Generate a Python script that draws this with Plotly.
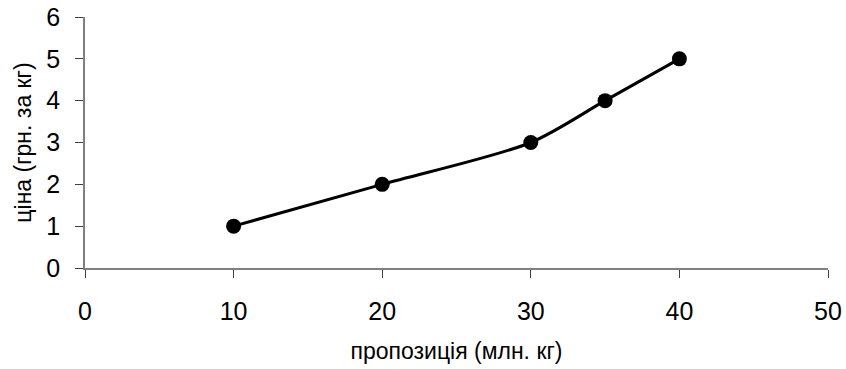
import plotly.graph_objects as go

# Supply curve: quantity (mln kg) vs price (UAH per kg)
supply_qty = [10, 20, 30, 35, 40]
price = [1, 2, 3, 4, 5]

x_ticks = [0, 10, 20, 30, 40, 50]
y_ticks = [0, 1, 2, 3, 4, 5, 6]

FONT = "Liberation Sans, Arial, sans-serif"

fig = go.Figure()
fig.add_trace(go.Scatter(
    x=supply_qty, y=price,
    mode="lines+markers",
    line=dict(color="black", width=3, shape="spline", smoothing=0.8),
    marker=dict(color="black", size=15, symbol="circle"),
    showlegend=False,
))

axis_common = dict(
    showgrid=False, zeroline=False, automargin=False,
    showline=True, linecolor="#808080", linewidth=1.5,
    ticks="outside", ticklen=8, tickcolor="#404040", tickwidth=1,
    tickfont=dict(family=FONT, size=25, color="black"),
)

fig.update_xaxes(
    range=[0, 50], tickvals=x_ticks, ticktext=[str(v) for v in x_ticks],
    title=dict(text="пропозиція (млн. кг)", font=dict(family=FONT, size=23, color="black"), standoff=19),
    ticklabelstandoff=12,
    **axis_common,
)
fig.update_yaxes(
    range=[0, 6], tickvals=y_ticks, ticktext=[str(v) for v in y_ticks],
    title=dict(text="ціна (грн. за кг)", font=dict(family=FONT, size=23, color="black"), standoff=8),
    ticklabelstandoff=10,
    **axis_common,
)

fig.update_layout(
    width=846, height=369,
    margin=dict(l=85, r=18, t=17, b=101, autoexpand=False),
    paper_bgcolor="white", plot_bgcolor="white",
    font=dict(family=FONT, color="black"),
)

fig.write_html("out.html")
